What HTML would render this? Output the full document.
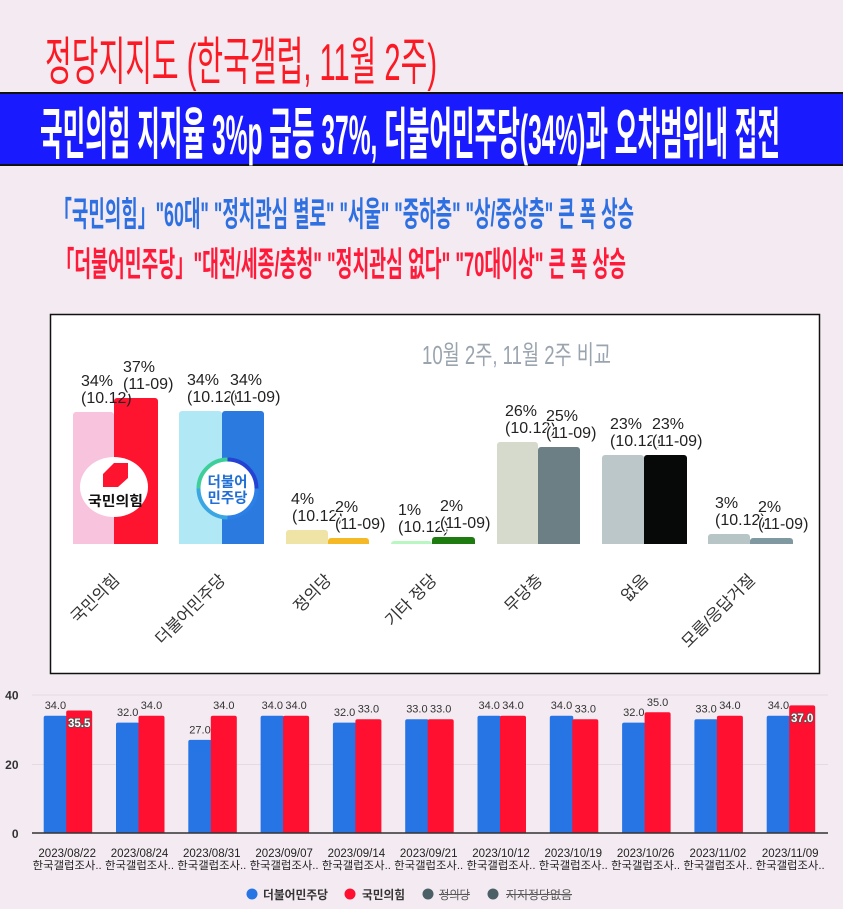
<!DOCTYPE html>
<html><head><meta charset="utf-8"><style>
html,body{margin:0;padding:0;background:#f3ebf1;}
svg{display:block;}
text{font-family:"Liberation Sans","Noto Sans CJK KR",sans-serif;}
</style></head><body>
<svg width="843" height="909" viewBox="0 0 843 909" xmlns="http://www.w3.org/2000/svg">
<rect x="0" y="0" width="843" height="909" fill="#f3ebf1"/>

<!-- Title -->
<text x="45" y="80" font-size="52" fill="#fb1a24" textLength="392" lengthAdjust="spacingAndGlyphs">정당지지도 (한국갤럽, 11월 2주)</text>

<!-- Banner -->
<rect x="0" y="92" width="843" height="74" fill="#1a1aff"/>
<rect x="0" y="92" width="843" height="2" fill="#111"/>
<rect x="0" y="164" width="843" height="2" fill="#111"/>
<text x="40" y="154" font-size="56" font-weight="bold" fill="#ffffff" textLength="740" lengthAdjust="spacingAndGlyphs">국민의힘 지지율 3%p 급등 37%, 더불어민주당(34%)과 오차범위내 접전</text>

<!-- Subtitles -->
<text x="54" y="226" font-size="34" font-weight="bold" fill="#2e70e2" textLength="580" lengthAdjust="spacingAndGlyphs">「국민의힘」&quot;60대&quot; &quot;정치관심 별로&quot; &quot;서울&quot; &quot;중하층&quot; &quot;상/중상층&quot; 큰 폭 상승</text>
<text x="56" y="276" font-size="34" font-weight="bold" fill="#ff1a3a" textLength="570" lengthAdjust="spacingAndGlyphs">「더불어민주당」&quot;대전/세종/충청&quot; &quot;정치관심 없다&quot; &quot;70대이상&quot; 큰 폭 상승</text>

<!-- Upper chart box -->
<rect x="50.5" y="314.5" width="769" height="359" fill="#ffffff" stroke="#111" stroke-width="1.5"/>
<text x="422" y="364" font-size="26" fill="#9aa4ae" textLength="189" lengthAdjust="spacingAndGlyphs">10월 2주, 11월 2주 비교</text>

<!-- Upper bars -->
<g>
<rect x="73" y="412" width="41" height="137" rx="3" fill="#f7c3dd"/>
<rect x="114" y="398" width="44" height="151" rx="3" fill="#ff1430"/>
<rect x="179" y="411" width="43" height="138" rx="3" fill="#b1e8f6"/>
<rect x="222" y="411" width="42" height="138" rx="3" fill="#2b7ae0"/>
<rect x="286" y="530" width="42" height="19" rx="3" fill="#efe3a6"/>
<rect x="328" y="538" width="41" height="11" rx="3" fill="#f6b926"/>
<rect x="391" y="541" width="41" height="8" rx="3" fill="#b8f7c2"/>
<rect x="432" y="537" width="43" height="12" rx="3" fill="#1d7b10"/>
<rect x="497" y="442" width="41" height="107" rx="3" fill="#d6dacd"/>
<rect x="538" y="447" width="42" height="102" rx="3" fill="#6c7f85"/>
<rect x="602" y="455" width="42" height="94" rx="3" fill="#bcc7ca"/>
<rect x="644" y="455" width="43" height="94" rx="3" fill="#070909"/>
<rect x="708" y="534" width="42" height="15" rx="3" fill="#b7c5c7"/>
<rect x="750" y="538" width="43" height="11" rx="3" fill="#8099a0"/>
<rect x="60" y="544" width="750" height="6" fill="#ffffff"/>
</g>

<!-- Logos -->
<ellipse cx="114" cy="487" rx="34" ry="30" fill="#ffffff"/>
<polygon points="103,474 114,463 128,463 128,478 118,487 103,487" fill="#ff1430"/>
<text x="115.5" y="506" font-size="14" font-weight="bold" fill="#111" text-anchor="middle" textLength="55" lengthAdjust="spacingAndGlyphs">국민의힘</text>

<circle cx="227.5" cy="488.5" r="29" fill="#ffffff"/>
<g fill="none" stroke-width="4">
<path d="M 227.5 459.5 A 29 29 0 0 1 256.5 488.5" stroke="#2443d2"/>
<path d="M 256.5 488.5 A 29 29 0 0 1 227.5 517.5" stroke="#2c7fe6"/>
<path d="M 227.5 517.5 A 29 29 0 0 1 198.5 488.5" stroke="#3aa6e2"/>
<path d="M 198.5 488.5 A 29 29 0 0 1 227.5 459.5" stroke="#3ccf9a"/>
</g>
<text x="227.5" y="487" font-size="14.5" font-weight="bold" fill="#1f6fd6" text-anchor="middle">더불어</text>
<text x="227.5" y="503" font-size="14.5" font-weight="bold" fill="#1f6fd6" text-anchor="middle">민주당</text>

<!-- Upper labels -->
<g font-size="16" fill="#222">
<text x="81" y="386">34%</text><text x="81" y="403">(10.12)</text>
<text x="291" y="504">4%</text><text x="292" y="521">(10.12)</text>
<text x="187" y="385">34%</text><text x="187" y="402">(10.12)</text>
<text x="398" y="515">1%</text><text x="398" y="532">(10.12)</text>
<text x="505" y="416">26%</text><text x="505" y="433">(10.12)</text>
<text x="610" y="429">23%</text><text x="610" y="446">(10.12)</text>
<text x="715" y="508">3%</text><text x="715" y="525">(10.12)</text>
</g>
<g font-size="16" fill="#222" stroke="#ffffff" stroke-width="3" paint-order="stroke" stroke-linejoin="round">
<text x="123" y="372">37%</text><text x="123" y="389">(11-09)</text>
<text x="230" y="385">34%</text><text x="230" y="402">(11-09)</text>
<text x="335" y="512">2%</text><text x="335" y="529">(11-09)</text>
<text x="440" y="511">2%</text><text x="440" y="528">(11-09)</text>
<text x="546" y="421">25%</text><text x="546" y="438">(11-09)</text>
<text x="652" y="429">23%</text><text x="652" y="446">(11-09)</text>
<text x="758" y="512">2%</text><text x="758" y="529">(11-09)</text>
</g>

<!-- Category labels -->
<g font-size="16.5" fill="#333" text-anchor="end">
<text transform="translate(120.5,581) rotate(-45)">국민의힘</text>
<text transform="translate(226.5,581) rotate(-45)">더불어민주당</text>
<text transform="translate(332.5,581) rotate(-45)">정의당</text>
<text transform="translate(438,581) rotate(-45)">기타 정당</text>
<text transform="translate(543.5,581) rotate(-45)">무당층</text>
<text transform="translate(649.5,581) rotate(-45)">없음</text>
<text transform="translate(756,581) rotate(-45)">모름/응답거절</text>
</g>

<!-- Lower chart -->
<line x1="32" y1="695" x2="828" y2="695" stroke="#e3dbe1" stroke-width="1"/>
<line x1="32" y1="764.5" x2="828" y2="764.5" stroke="#e3dbe1" stroke-width="1"/>
<g font-size="12" font-weight="bold" fill="#333" text-anchor="end">
<text x="18.5" y="699.5">40</text>
<text x="18.5" y="769">20</text>
<text x="18.5" y="838">0</text>
</g>

<g>
<rect x="43.7" y="715.7" width="23.5" height="122" rx="2" fill="#2774e4"/>
<rect x="116" y="722.6" width="23.5" height="115" rx="2" fill="#2774e4"/>
<rect x="188.3" y="739.9" width="23.5" height="98" rx="2" fill="#2774e4"/>
<rect x="260.6" y="715.7" width="23.5" height="122" rx="2" fill="#2774e4"/>
<rect x="332.9" y="722.6" width="23.5" height="115" rx="2" fill="#2774e4"/>
<rect x="405.2" y="719.2" width="23.5" height="118" rx="2" fill="#2774e4"/>
<rect x="477.5" y="715.7" width="23.5" height="122" rx="2" fill="#2774e4"/>
<rect x="549.8" y="715.7" width="23.5" height="122" rx="2" fill="#2774e4"/>
<rect x="622.1" y="722.6" width="23.5" height="115" rx="2" fill="#2774e4"/>
<rect x="694.4" y="719.2" width="23.5" height="118" rx="2" fill="#2774e4"/>
<rect x="766.7" y="715.7" width="23.5" height="122" rx="2" fill="#2774e4"/>
<rect x="66.2" y="710.5" width="26" height="127" rx="2" fill="#ff0f30"/>
<rect x="138.5" y="715.7" width="26" height="122" rx="2" fill="#ff0f30"/>
<rect x="210.8" y="715.7" width="26" height="122" rx="2" fill="#ff0f30"/>
<rect x="283.1" y="715.7" width="26" height="122" rx="2" fill="#ff0f30"/>
<rect x="355.4" y="719.2" width="26" height="118" rx="2" fill="#ff0f30"/>
<rect x="427.7" y="719.2" width="26" height="118" rx="2" fill="#ff0f30"/>
<rect x="500" y="715.7" width="26" height="122" rx="2" fill="#ff0f30"/>
<rect x="572.3" y="719.2" width="26" height="118" rx="2" fill="#ff0f30"/>
<rect x="644.6" y="712.3" width="26" height="125" rx="2" fill="#ff0f30"/>
<rect x="716.9" y="715.7" width="26" height="122" rx="2" fill="#ff0f30"/>
<rect x="789.2" y="705.4" width="26" height="132" rx="2" fill="#ff0f30"/>
<rect x="30" y="833.5" width="800" height="6" fill="#f3ebf1"/>
</g>
<line x1="32" y1="833" x2="828" y2="833" stroke="#333" stroke-width="1.5"/>

<g font-size="11" fill="#333" text-anchor="middle">
<text x="55.4" y="709">34.0</text>
<text x="127.7" y="716">32.0</text><text x="151.5" y="709">34.0</text>
<text x="200" y="733.5">27.0</text><text x="223.8" y="709">34.0</text>
<text x="272.3" y="709">34.0</text><text x="296.1" y="709">34.0</text>
<text x="344.6" y="716">32.0</text><text x="368.4" y="712.7">33.0</text>
<text x="416.9" y="712.7">33.0</text><text x="440.7" y="712.7">33.0</text>
<text x="489.2" y="709">34.0</text><text x="513" y="709">34.0</text>
<text x="561.5" y="709">34.0</text><text x="585.3" y="712.7">33.0</text>
<text x="633.8" y="716">32.0</text><text x="657.6" y="705.8">35.0</text>
<text x="706.1" y="712.7">33.0</text><text x="729.9" y="709">34.0</text>
<text x="778.4" y="709">34.0</text>
</g>
<g font-size="11.5" font-weight="bold" fill="#ffffff" stroke="#555" stroke-width="1.6" paint-order="stroke" text-anchor="middle">
<text x="79.2" y="727">35.5</text>
<text x="802.2" y="722">37.0</text>
</g>

<g font-size="11.5" fill="#222" text-anchor="middle">
<text x="67.2" y="857">2023/08/22</text>
<text x="139.5" y="857">2023/08/24</text>
<text x="211.8" y="857">2023/08/31</text>
<text x="284.1" y="857">2023/09/07</text>
<text x="356.4" y="857">2023/09/14</text>
<text x="428.7" y="857">2023/09/21</text>
<text x="501" y="857">2023/10/12</text>
<text x="573.3" y="857">2023/10/19</text>
<text x="645.6" y="857">2023/10/26</text>
<text x="717.9" y="857">2023/11/02</text>
<text x="790.2" y="857">2023/11/09</text>
</g>
<g font-size="11" fill="#222" text-anchor="middle">
<text x="67.2" y="869" textLength="69" lengthAdjust="spacingAndGlyphs">한국갤럽조사..</text>
<text x="139.5" y="869" textLength="69" lengthAdjust="spacingAndGlyphs">한국갤럽조사..</text>
<text x="211.8" y="869" textLength="69" lengthAdjust="spacingAndGlyphs">한국갤럽조사..</text>
<text x="284.1" y="869" textLength="69" lengthAdjust="spacingAndGlyphs">한국갤럽조사..</text>
<text x="356.4" y="869" textLength="69" lengthAdjust="spacingAndGlyphs">한국갤럽조사..</text>
<text x="428.7" y="869" textLength="69" lengthAdjust="spacingAndGlyphs">한국갤럽조사..</text>
<text x="501" y="869" textLength="69" lengthAdjust="spacingAndGlyphs">한국갤럽조사..</text>
<text x="573.3" y="869" textLength="69" lengthAdjust="spacingAndGlyphs">한국갤럽조사..</text>
<text x="645.6" y="869" textLength="69" lengthAdjust="spacingAndGlyphs">한국갤럽조사..</text>
<text x="717.9" y="869" textLength="69" lengthAdjust="spacingAndGlyphs">한국갤럽조사..</text>
<text x="790.2" y="869" textLength="69" lengthAdjust="spacingAndGlyphs">한국갤럽조사..</text>
</g>

<circle cx="252" cy="894" r="5.5" fill="#2774e4"/>
<text x="263" y="899" font-size="12" font-weight="bold" fill="#333" textLength="65" lengthAdjust="spacingAndGlyphs">더불어민주당</text>
<circle cx="350" cy="894" r="5.5" fill="#ff0f30"/>
<text x="362" y="899" font-size="12" font-weight="bold" fill="#333" textLength="43" lengthAdjust="spacingAndGlyphs">국민의힘</text>
<circle cx="428" cy="894" r="5.5" fill="#4b5f66"/>
<text x="439" y="899" font-size="12" fill="#555" textLength="31" lengthAdjust="spacingAndGlyphs">정의당</text>
<line x1="439" y1="894.5" x2="470" y2="894.5" stroke="#555" stroke-width="1"/>
<circle cx="493" cy="894" r="5.5" fill="#4b5f66"/>
<text x="506" y="899" font-size="12" fill="#555" textLength="66" lengthAdjust="spacingAndGlyphs">지지정당없음</text>
<line x1="506" y1="894.5" x2="572" y2="894.5" stroke="#555" stroke-width="1"/>
</svg>
</body></html>
